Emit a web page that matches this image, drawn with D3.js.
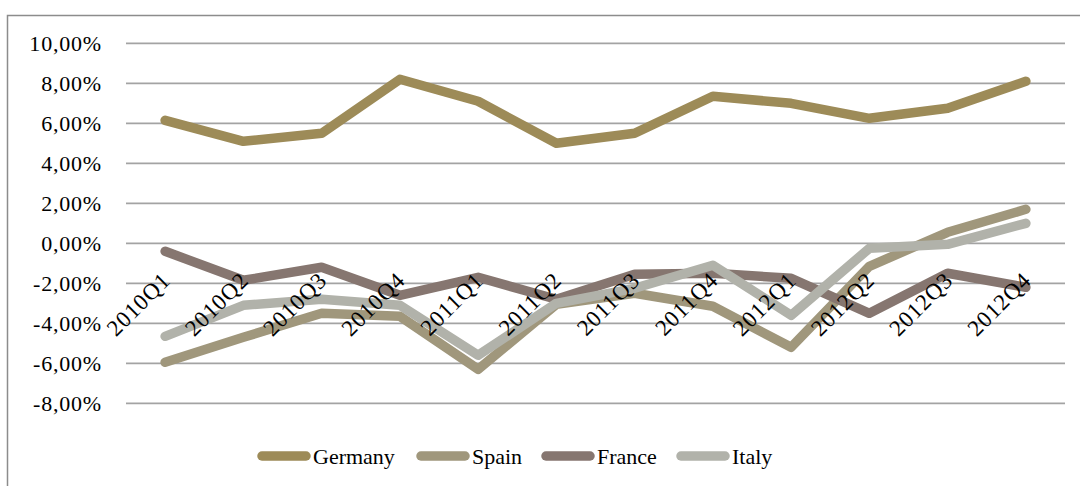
<!DOCTYPE html>
<html>
<head>
<meta charset="utf-8">
<script src="https://cdn.jsdelivr.net/npm/d3@7/dist/d3.min.js"></script>
<style>
  html, body { margin: 0; padding: 0; background: #fff; }
  svg { display: block; }
  svg text { font-family: "Times New Roman", "Liberation Serif", "DejaVu Serif", serif; fill: #000; }
</style>
</head>
<body>
<svg id="chart" width="1080" height="486"></svg>
<script>
// Quarterly values (percent)
const quarters = ["2010Q1","2010Q2","2010Q3","2010Q4","2011Q1","2011Q2","2011Q3","2011Q4","2012Q1","2012Q2","2012Q3","2012Q4"];
const germany = [6.15, 5.1, 5.5, 8.2, 7.1, 5.0, 5.5, 7.35, 7.0, 6.25, 6.75, 8.1];
const spain   = [-5.95, -4.7, -3.5, -3.65, -6.3, -3.05, -2.5, -3.15, -5.2, -1.15, 0.55, 1.7];
const france  = [-0.4, -1.85, -1.2, -2.6, -1.7, -2.8, -1.55, -1.5, -1.75, -3.5, -1.5, -2.2];
const italy   = [-4.65, -3.1, -2.8, -3.1, -5.6, -3.0, -2.25, -1.1, -3.6, -0.25, -0.05, 1.0];
const seriesNames = ["Germany", "Spain", "France", "Italy"];
const yTicks = [-8, -6, -4, -2, 0, 2, 4, 6, 8, 10];

const colors = {
  Germany: "#9d8b58",
  Spain: "#a0977c",
  France: "#867670",
  Italy: "#b1b2aa"
};

const series = seriesNames.map((name, i) => ({ name, values: [germany, spain, france, italy][i] }));

const serif = '"Times New Roman", "Liberation Serif", "DejaVu Serif", serif';
const svg = d3.select("#chart");

// outer frame
svg.append("rect")
  .attr("x", 7.5).attr("y", 15.5)
  .attr("width", 1090).attr("height", 490)
  .attr("fill", "none")
  .attr("stroke", "#8c8c8c")
  .attr("stroke-width", 1.5);

const plotLeft = 126, plotRight = 1065;
const x = d3.scalePoint().domain(quarters).range([plotLeft, plotRight]).padding(0.5);
const y = d3.scaleLinear().domain([-8, 10]).range([403.3, 43.3]);

// horizontal gridlines
svg.append("g").selectAll("line")
  .data(yTicks)
  .join("line")
  .attr("x1", plotLeft).attr("x2", plotRight)
  .attr("y1", d => y(d)).attr("y2", d => y(d))
  .attr("stroke", "#a3a3a3")
  .attr("stroke-width", 1.8);

// y axis labels: European decimal comma, plain hyphen for negatives
const locale = d3.formatLocale({ decimal: ",", thousands: ".", grouping: [3], currency: ["", "€"], minus: "-" });
const fmtNum = locale.format(".2f");
const fmt = v => fmtNum(v) + "%";
svg.append("g").selectAll("text")
  .data(yTicks)
  .join("text")
  .attr("x", 102)
  .attr("y", d => y(d))
  .attr("dy", "0.35em")
  .attr("text-anchor", "end")
  .attr("font-family", serif)
  .attr("font-size", 22)
  .attr("letter-spacing", "0.8px")
  .text(fmt);

// series lines
const line = d3.line()
  .x((d, i) => x(quarters[i]))
  .y(d => y(d));

svg.append("g").selectAll("path")
  .data(series)
  .join("path")
  .attr("d", d => line(d.values))
  .attr("fill", "none")
  .attr("stroke", d => colors[d.name])
  .attr("stroke-width", 9.5)
  .attr("stroke-linejoin", "round")
  .attr("stroke-linecap", "round");

// category labels, rotated, hanging below the zero line
svg.append("g").selectAll("text")
  .data(quarters)
  .join("text")
  .attr("transform", d => `translate(${x(d) + 1},276) rotate(-45)`)
  .attr("text-anchor", "end")
  .attr("dy", "0.35em")
  .attr("font-family", serif)
  .attr("font-size", 23)
  .attr("letter-spacing", "0.8px")
  .text(d => d);

// legend
const legendItems = [
  { name: "Germany", x0: 258 },
  { name: "Spain", x0: 417 },
  { name: "France", x0: 542 },
  { name: "Italy", x0: 677 }
];
const lg = svg.append("g").selectAll("g")
  .data(legendItems)
  .join("g")
  .attr("transform", d => `translate(${d.x0},456)`);
lg.append("line")
  .attr("x1", 4).attr("x2", 48)
  .attr("y1", 0).attr("y2", 0)
  .attr("stroke", d => colors[d.name])
  .attr("stroke-width", 9.5)
  .attr("stroke-linecap", "round");
lg.append("text")
  .attr("x", 55)
  .attr("dy", "0.35em")
  .attr("font-family", serif)
  .attr("font-size", 22)
  .text(d => d.name);
</script>
</body>
</html>
